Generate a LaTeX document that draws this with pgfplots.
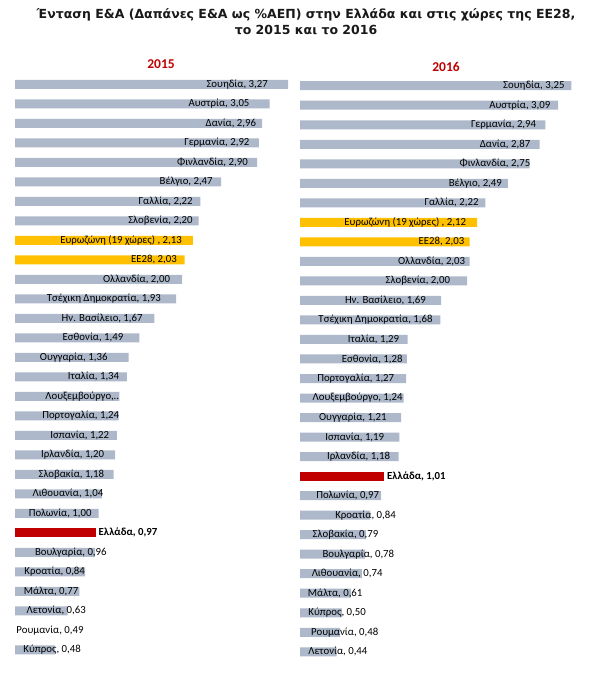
\documentclass[border=0pt]{standalone}
\usepackage{fontspec}
\setmainfont{Carlito}
\newfontfamily\titlefont{DejaVu Sans}
\usepackage{pgfplots}
\usepackage{pgfplotstable}
\pgfplotsset{compat=1.18}
\definecolor{barg}{HTML}{ADB9CA}
\definecolor{bargold}{HTML}{FFC000}
\definecolor{barred}{HTML}{C00000}

% 2015 bars: row;value
\pgfplotstableread[col sep=semicolon]{
row;val
0;3.27
1;3.05
2;2.96
3;2.92
4;2.90
5;2.47
6;2.22
7;2.20
10;2.00
11;1.93
12;1.67
13;1.49
14;1.36
15;1.34
16;1.25
17;1.24
18;1.22
19;1.20
20;1.18
21;1.04
22;1.00
24;0.96
25;0.84
26;0.77
27;0.63
28;0.49
29;0.48
}\grayA
\pgfplotstableread[col sep=semicolon]{
row;val
8;2.13
9;2.03
}\goldA
\pgfplotstableread[col sep=semicolon]{
row;val
23;0.97
}\redA
% 2015 labels: row;label right edge;label
\pgfplotstableread[col sep=semicolon]{
row;lx;label
0;3.03;Σουηδία, 3,27
1;2.81;Αυστρία, 3,05
2;2.89;Δανία, 2,96
3;2.81;Γερμανία, 2,92
4;2.79;Φινλανδία, 2,90
5;2.37;Βέλγιο, 2,47
6;2.13;Γαλλία, 2,22
7;2.13;Σλοβενία, 2,20
8;2.00;Ευρωζώνη (19 χώρες) , 2,13
9;1.94;ΕΕ28, 2,03
10;1.86;Ολλανδία, 2,00
11;1.75;Τσέχικη Δημοκρατία, 1,93
12;1.53;Ην. Βασίλειο, 1,67
13;1.30;Εσθονία, 1,49
14;1.11;Ουγγαρία, 1,36
15;1.25;Ιταλία, 1,34
16;1.25;Λουξεμβούργο,..
17;1.25;Πορτογαλία, 1,24
18;1.13;Ισπανία, 1,22
19;1.07;Ιρλανδία, 1,20
20;1.07;Σλοβακία, 1,18
21;1.06;Λιθουανία, 1,04
22;0.92;Πολωνία, 1,00
24;1.10;Βουλγαρία, 0,96
25;0.84;Κροατία, 0,84
26;0.76;Μάλτα, 0,77
27;0.85;Λετονία, 0,63
29;0.79;Κύπρος, 0,48
}\labA
\pgfplotstableread[col sep=semicolon]{
row;lx;label
28;0.86;Ρουμανία, 0,49
}\labAw
\pgfplotstableread[col sep=semicolon]{
row;lx;label
23;1.00;Ελλάδα, 0,97
}\labAr

% 2016
\pgfplotstableread[col sep=semicolon]{
row;val
0;3.25
1;3.09
2;2.94
3;2.87
4;2.75
5;2.49
6;2.22
9;2.03
10;2.00
11;1.69
12;1.68
13;1.29
14;1.28
15;1.27
16;1.24
17;1.21
18;1.19
19;1.18
21;0.97
22;0.84
23;0.79
24;0.78
25;0.74
26;0.61
27;0.50
28;0.48
29;0.44
}\grayB
\pgfplotstableread[col sep=semicolon]{
row;val
7;2.12
8;2.03
}\goldB
\pgfplotstableread[col sep=semicolon]{
row;val
20;1.01
}\redB
\pgfplotstableread[col sep=semicolon]{
row;lx;label
0;3.17;Σουηδία, 3,25
1;3.00;Αυστρία, 3,09
2;2.83;Γερμανία, 2,94
3;2.76;Δανία, 2,87
4;2.76;Φινλανδία, 2,75
5;2.42;Βέλγιο, 2,49
6;2.14;Γαλλία, 2,22
7;1.99;Ευρωζώνη (19 χώρες) , 2,12
8;1.97;ΕΕ28, 2,03
9;1.98;Ολλανδία, 2,03
10;1.80;Σλοβενία, 2,00
11;1.51;Ην. Βασίλειο, 1,69
12;1.59;Τσέχικη Δημοκρατία, 1,68
13;1.19;Ιταλία, 1,29
14;1.23;Εσθονία, 1,28
15;1.13;Πορτογαλία, 1,27
16;1.23;Λουξεμβούργο, 1,24
17;1.04;Ουγγαρία, 1,21
18;1.01;Ισπανία, 1,19
19;1.08;Ιρλανδία, 1,18
21;0.95;Πολωνία, 0,97
22;1.15;Κροατία, 0,84
23;0.94;Σλοβακία, 0,79
24;1.13;Βουλγαρία, 0,78
25;0.99;Λιθουανία, 0,74
26;0.75;Μάλτα, 0,61
27;0.79;Κύπρος, 0,50
28;0.94;Ρουμανία, 0,48
29;0.81;Λετονία, 0,44
}\labB
\pgfplotstableread[col sep=semicolon]{
row;lx;label
20;1.04;Ελλάδα, 1,01
}\labBr

\pgfplotsset{
  panel/.style={
    scale only axis, hide axis, clip=false,
    width=292.25pt, xmin=0, xmax=3.5,
    ymin=-0.5, ymax=29.5, y dir=reverse,
    anchor=north west,
  },
  hbar/.style={xbar, bar width=9pt, bar shift=0pt, draw=none, fill=#1},
  lab/.style={draw=none, mark=none, nodes near coords, point meta=explicit symbolic,
    every node near coord/.append style={anchor=east, inner sep=0pt, text=black,
      font=\fontsize{10.8}{12}\selectfont}},
  labw/.style={draw=none, mark=none, nodes near coords, point meta=explicit symbolic,
    every node near coord/.append style={anchor=west, inner sep=0pt, text=black,
      font=\bfseries\fontsize{10.8}{12}\selectfont}},
}

\begin{document}
\begin{tikzpicture}
\path[use as bounding box] (0,0) rectangle (612pt,-676pt);
\node[font=\titlefont\bfseries\fontsize{12.5}{16}\selectfont, anchor=base, text=black!90, inner sep=0pt]
  at (306pt,-19pt) {Ένταση Ε\&Α (Δαπάνες Ε\&Α ως \%ΑΕΠ) στην Ελλάδα και στις χώρες της ΕΕ28,};
\node[font=\titlefont\bfseries\fontsize{12.5}{16}\selectfont, anchor=base, text=black!90, inner sep=0pt]
  at (306pt,-35pt) {το 2015 και το 2016};
\node[font=\bfseries\fontsize{13.5}{15}\selectfont, text=barred] at (161pt,-64pt) {2015};
\node[font=\bfseries\fontsize{13.5}{15}\selectfont, text=barred] at (446pt,-67pt) {2016};

\begin{axis}[panel, at={(15pt,-74.55pt)}, height=585pt]
\addplot[hbar=barg] table[x=val, y=row] {\grayA};
\addplot[hbar=bargold] table[x=val, y=row] {\goldA};
\addplot[hbar=barred] table[x=val, y=row] {\redA};
\addplot[lab] table[x=lx, y=row, meta=label] {\labA};
\addplot[lab, every node near coord/.append style={fill=white, inner xsep=3pt, inner ysep=1pt}] table[x=lx, y=row, meta=label] {\labAw};
\addplot[labw] table[x=lx, y=row, meta=label] {\labAr};
\end{axis}

\begin{axis}[panel, at={(300pt,-75.95pt)}, height=585.6pt]
\addplot[hbar=barg] table[x=val, y=row] {\grayB};
\addplot[hbar=bargold] table[x=val, y=row] {\goldB};
\addplot[hbar=barred] table[x=val, y=row] {\redB};
\addplot[lab] table[x=lx, y=row, meta=label] {\labB};
\addplot[labw] table[x=lx, y=row, meta=label] {\labBr};
\end{axis}
\end{tikzpicture}
\end{document}
